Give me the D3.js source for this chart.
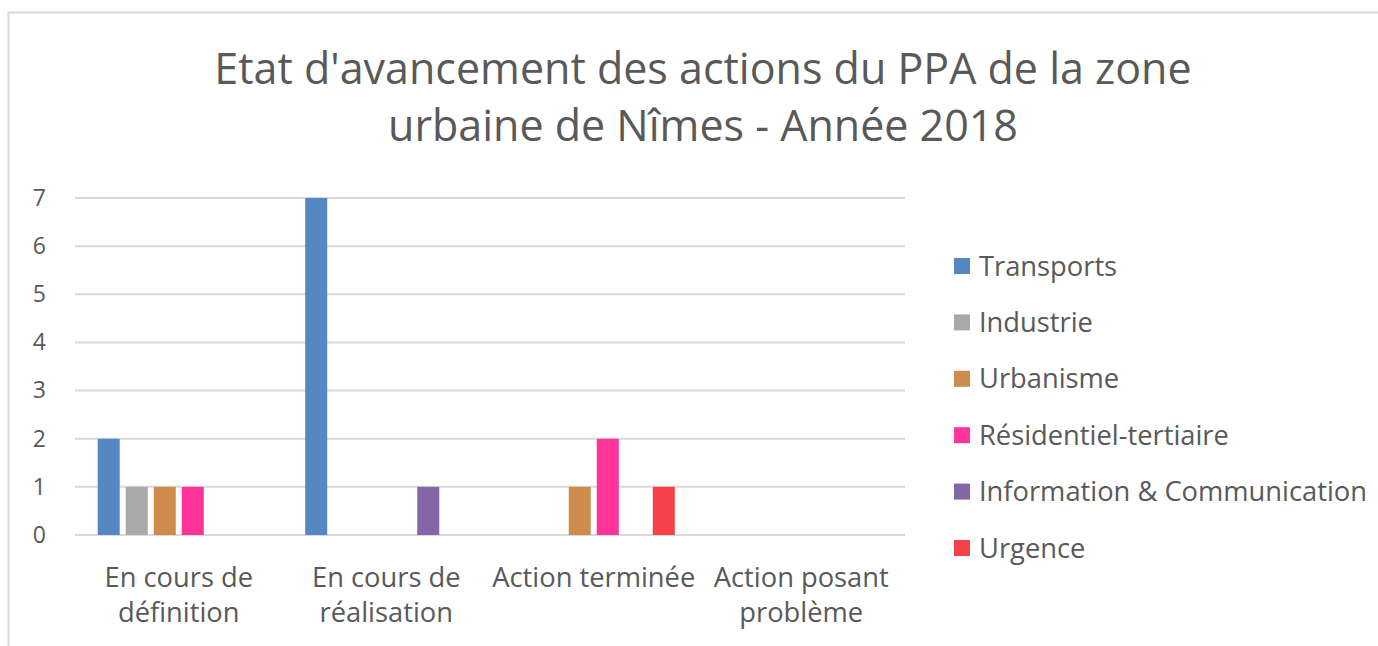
<!DOCTYPE html>
<html>
<head>
<meta charset="utf-8">
<script src="https://cdn.jsdelivr.net/npm/d3@7"></script>
<style>
  body { margin: 0; background: #fff; }
  svg text { font-family: "Open Sans", Lato, sans-serif; fill: #595959; }
</style>
</head>
<body>
<script>
// data
var categories = [["En cours de", "définition"], ["En cours de", "réalisation"], ["Action terminée"], ["Action posant", "problème"]];
var series = ["Transports", "Industrie", "Urbanisme", "Résidentiel-tertiaire", "Information & Communication", "Urgence"];
var colors = ["#5588c3", "#a9a9a9", "#cd8c4b", "#ff3399", "#8466a6", "#f54249"];
var transports = [2, 7, 0, 0];
var industrie = [1, 0, 0, 0];
var urbanisme = [1, 0, 1, 0];
var residentiel = [1, 0, 2, 0];
var information = [0, 1, 0, 0];
var urgence = [0, 0, 1, 0];
var yTicks = [0, 1, 2, 3, 4, 5, 6, 7];
var titleLines = ["Etat d'avancement des actions du PPA de la zone", "urbaine de Nîmes - Année 2018"];

var values = [transports, industrie, urbanisme, residentiel, information, urgence];

var width = 1378, height = 646;
var svg = d3.select("body").append("svg")
    .attr("width", width)
    .attr("height", height);

// chart frame, right and bottom edges fall outside the picture
svg.append("rect")
    .attr("x", 8.5).attr("y", 12.5)
    .attr("width", 1400).attr("height", 700)
    .attr("fill", "#fff")
    .attr("stroke", "#d9d9d9")
    .attr("stroke-width", 2);

svg.append("text")
    .attr("text-anchor", "middle")
    .attr("font-size", 43)
    .selectAll("tspan")
    .data(titleLines)
    .enter().append("tspan")
    .attr("x", 703)
    .attr("y", function(d, i) { return 84 + i * 57; })
    .text(function(d) { return d; });

var plot = {left: 75, right: 905, top: 198, bottom: 535};

var x = d3.scaleBand()
    .domain(d3.range(categories.length))
    .range([plot.left, plot.right]);

var xInner = d3.scaleBand()
    .domain(d3.range(series.length))
    .range([22.7, x.bandwidth() - 22.7])
    .paddingInner(0.214);

var y = d3.scaleLinear()
    .domain([0, 7])
    .range([plot.bottom, plot.top]);

// gridlines
svg.append("g")
    .selectAll("line")
    .data(yTicks)
    .enter().append("line")
    .attr("x1", plot.left).attr("x2", plot.right)
    .attr("y1", function(d) { return y(d); })
    .attr("y2", function(d) { return y(d); })
    .attr("stroke", "#d9d9d9")
    .attr("stroke-width", 2);

// y labels
var yAxis = svg.append("g")
    .attr("transform", "translate(" + plot.left + ",0)")
    .call(d3.axisLeft(y).tickValues(yTicks).tickFormat(d3.format("d")).tickSize(0).tickPadding(29));
yAxis.select(".domain").remove();
yAxis.selectAll("text")
    .attr("font-size", 23)
    .attr("fill", "#595959")
    .style("font-family", "Open Sans");

// bars
var groups = svg.append("g")
    .selectAll("g")
    .data(values)
    .enter().append("g")
    .attr("fill", function(d, i) { return colors[i]; });

groups.each(function(vals, si) {
    d3.select(this).selectAll("rect")
        .data(vals)
        .enter().append("rect")
        .attr("x", function(d, ci) { return x(ci) + xInner(si); })
        .attr("width", xInner.bandwidth())
        .attr("y", function(d) { return y(d); })
        .attr("height", function(d) { return y(0) - y(d); });
});

// category labels
var cat = svg.append("g")
    .selectAll("text")
    .data(categories)
    .enter().append("text")
    .attr("text-anchor", "middle")
    .attr("font-size", 27.3);
cat.selectAll("tspan")
    .data(function(d, i) { return d.map(function(t) { return {t: t, i: i}; }); })
    .enter().append("tspan")
    .attr("x", function(d) { return x(d.i) + x.bandwidth() / 2; })
    .attr("y", function(d, j) { return 587 + j * 35; })
    .text(function(d) { return d.t; });

// legend
var legend = svg.append("g")
    .selectAll("g")
    .data(series)
    .enter().append("g")
    .attr("transform", function(d, i) { return "translate(954," + (266 + i * 56.4) + ")"; });

legend.append("rect")
    .attr("x", 0).attr("y", -8)
    .attr("width", 16).attr("height", 16)
    .attr("fill", function(d, i) { return colors[i]; });

legend.append("text")
    .attr("x", 25)
    .attr("dy", "0.35em")
    .attr("font-size", 27.3)
    .text(function(d) { return d; });
</script>
</body>
</html>
